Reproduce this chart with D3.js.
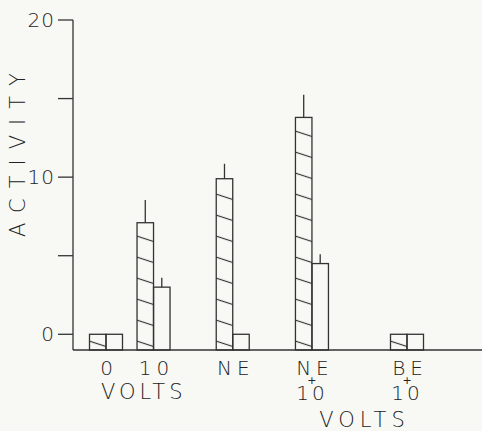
<!DOCTYPE html>
<meta charset="utf-8">
<script src="https://d3js.org/d3.v7.min.js"></script>
<style>
  body { margin: 0; background: #f8f8f4; }
  text { font-family: "DejaVu Sans", sans-serif; font-weight: 200; fill: #222; }
</style>
<div id="chart"></div>
<script>

// data
var groups    = ["0", "10", "NE", "NE+10", "BE+10"];
var hatched   = [0, 7.1, 9.9, 13.8, 0];
var hatchedErr = [0, 1.45, 0.95, 1.45, 0];
var open      = [0, 3.0, 0, 4.5, 0];
var openErr   = [0, 0.6, 0, 0.6, 0];
var yTicks    = [0, 5, 10, 15, 20];
var yLabels   = [0, 10, 20];

// uneven group spacing along the x axis (slot units)
var slot = [0, 3, 8, 13, 19];

var W = 482, H = 431;
var ink = "#333";

var svg = d3.select("#chart").append("svg")
    .attr("width", W).attr("height", H);

// hatch pattern: lines falling to the right
var defs = svg.append("defs");
defs.append("pattern")
    .attr("id", "hatch")
    .attr("patternUnits", "userSpaceOnUse")
    .attr("width", 8).attr("height", 21)
    .attr("patternTransform", "skewY(18)")
  .append("line")
    .attr("x1", -1).attr("x2", 9)
    .attr("y1", 10.5).attr("y2", 10.5)
    .attr("stroke", ink).attr("stroke-width", 1.2);

var x = d3.scaleLinear().domain([0, 19]).range([106, 407]);
var y = d3.scaleLinear().domain([-1, 20]).range([350, 20]);
var bw = 16.5;

// axes
svg.append("line")
    .attr("x1", 73).attr("x2", 73)
    .attr("y1", y(20)).attr("y2", y(-1))
    .attr("stroke", ink).attr("stroke-width", 1.3);
svg.append("line")
    .attr("x1", 73).attr("x2", W)
    .attr("y1", y(-1)).attr("y2", y(-1))
    .attr("stroke", ink).attr("stroke-width", 1.3);

svg.selectAll(".ytick").data(yTicks).enter().append("line")
    .attr("x1", 58).attr("x2", 73)
    .attr("y1", d => y(d)).attr("y2", d => y(d))
    .attr("stroke", ink).attr("stroke-width", 1.3);

svg.selectAll(".ylab").data(yLabels).enter().append("text")
    .attr("x", 55).attr("y", d => y(d) + 7)
    .attr("text-anchor", "end")
    .attr("font-size", 20)
    .attr("letter-spacing", 1)
    .text(d => d);

svg.append("text")
    .attr("transform", "translate(25," + 150 + ") rotate(-90)")
    .attr("text-anchor", "middle")
    .attr("font-size", 21)
    .attr("letter-spacing", 10)
    .text("ACTIVITY");

// bars
var rows = groups.map((g, i) => ({g: g, i: i, h: hatched[i], he: hatchedErr[i], o: open[i], oe: openErr[i]}));

var grp = svg.selectAll(".grp").data(rows).enter().append("g")
    .attr("transform", d => "translate(" + x(slot[d.i]) + ",0)");

grp.append("rect")
    .attr("x", -bw).attr("width", bw)
    .attr("y", d => y(d.h)).attr("height", d => y(-1) - y(d.h))
    .attr("fill", "url(#hatch)")
    .attr("stroke", ink).attr("stroke-width", 1.3);

grp.append("rect")
    .attr("x", 0).attr("width", bw)
    .attr("y", d => y(d.o)).attr("height", d => y(-1) - y(d.o))
    .attr("fill", "none")
    .attr("stroke", ink).attr("stroke-width", 1.3);

// error bars (upper only)
grp.filter(d => d.he > 0).append("line")
    .attr("x1", -bw / 2).attr("x2", -bw / 2)
    .attr("y1", d => y(d.h)).attr("y2", d => y(d.h + d.he))
    .attr("stroke", ink).attr("stroke-width", 1.3);
grp.filter(d => d.oe > 0).append("line")
    .attr("x1", bw / 2).attr("x2", bw / 2)
    .attr("y1", d => y(d.o)).attr("y2", d => y(d.o + d.oe))
    .attr("stroke", ink).attr("stroke-width", 1.3);

// group labels: stacked "NE / + / 10" kept in one text element
grp.each(function(d) {
  var parts = d.g.split("+");
  var t = d3.select(this).append("text")
      .attr("text-anchor", "middle")
      .attr("font-size", 20);
  t.append("tspan")
      .attr("x", 3).attr("y", 375)
      .attr("letter-spacing", 5)
      .text(parts[0]);
  if (parts.length > 1) {
    t.append("tspan")
        .attr("x", 0).attr("y", 384)
        .attr("font-size", 11)
        .attr("font-weight", 400)
        .attr("letter-spacing", 0)
        .text("+");
    t.append("tspan")
        .attr("x", 0).attr("y", 400)
        .attr("letter-spacing", 3)
        .text(parts[1]);
  }
});

// axis titles
svg.append("text")
    .attr("x", (x(slot[0]) + x(slot[1])) / 2 + 14).attr("y", 399)
    .attr("text-anchor", "middle")
    .attr("font-size", 21)
    .attr("letter-spacing", 4)
    .text("VOLTS");
svg.append("text")
    .attr("x", (x(slot[3]) + x(slot[4])) / 2 + 5).attr("y", 427)
    .attr("text-anchor", "middle")
    .attr("font-size", 21)
    .attr("letter-spacing", 5)
    .text("VOLTS");

</script>
